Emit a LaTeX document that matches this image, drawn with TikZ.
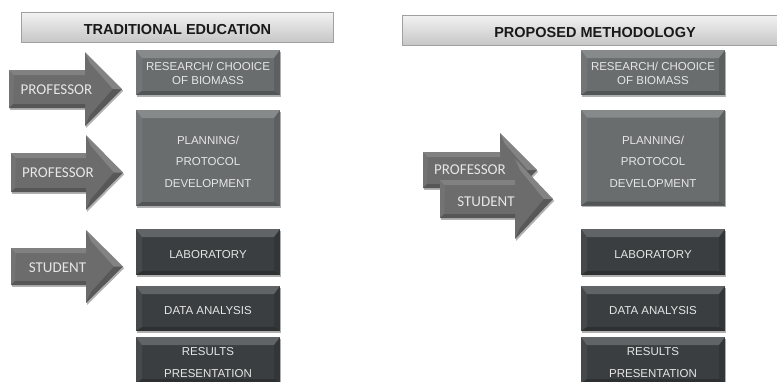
\documentclass[tikz,border=0pt]{standalone}
\usepackage{fontspec}
\setmainfont{Liberation Sans}
\newfontfamily\arrowfont{Carlito}
\usetikzlibrary{shadows}

\definecolor{midbox}{HTML}{6A6D6E}
\definecolor{darkbox}{HTML}{3A3E40}
\definecolor{arrowgray}{HTML}{6C6C6C}
\definecolor{boxtext}{HTML}{E6E6E6}
\definecolor{headline}{HTML}{A0A0A0}

\tikzset{
  softshadow/.style={drop shadow={shadow xshift=1.2pt,shadow yshift=-1.8pt,opacity=.3,fill=black}},
  header/.style={draw=headline,line width=.8pt,top color=white!95!black,bottom color=white!78!black},
  headtext/.style={font=\fontsize{14.5}{17}\selectfont\bfseries,text=black!90,inner sep=0pt},
  bevel/.style={path picture={
    \path (path picture bounding box.north west) coordinate (pnw)
          (path picture bounding box.north east) coordinate (pne)
          (path picture bounding box.south west) coordinate (psw)
          (path picture bounding box.south east) coordinate (pse);
    \fill[white,opacity=.2] (pnw) -- (pne) -- ([shift={(-6pt,-8pt)}]pne) -- ([shift={(6pt,-8pt)}]pnw) -- cycle;
    \fill[white,opacity=.06] (pnw) -- ([shift={(6pt,-8pt)}]pnw) -- ([shift={(6pt,4pt)}]psw) -- (psw) -- cycle;
    \fill[black,opacity=.12] (pne) -- ([shift={(-6pt,-8pt)}]pne) -- ([shift={(-6pt,4pt)}]pse) -- (pse) -- cycle;
    \fill[black,opacity=.22] (psw) -- ([shift={(6pt,4pt)}]psw) -- ([shift={(-6pt,4pt)}]pse) -- (pse) -- cycle;
  }},
  stepbox/.style={rectangle,inner sep=0pt,outer sep=0pt,minimum width=144pt,bevel,softshadow},
  boxlabel/.style={align=center,text=boxtext,inner sep=0pt,font=\fontsize{11.5}{14}\selectfont},
  widelabel/.style={boxlabel,font=\fontsize{11.5}{21.5}\selectfont},
  arrowlabel/.style={text=boxtext,inner sep=0pt,font=\arrowfont\fontsize{15}{18}\selectfont},
}

% block arrow: left x, head-base x, tip x, centre y, shaft half-height, head half-height
\newcommand\blockarrow[6]{%
  \fill[arrowgray,softshadow] (#1,{#4-#5}) -- (#2,{#4-#5}) -- (#2,{#4-#6}) -- (#3,#4)
        -- (#2,{#4+#6}) -- (#2,{#4+#5}) -- (#1,{#4+#5}) -- cycle;
  \fill[white,opacity=.15] (#1,{#4-#5}) -- (#2,{#4-#5}) -- (#2,{#4-#5+5}) -- ({#1+5},{#4-#5+5}) -- cycle;
  \fill[white,opacity=.05] (#1,{#4-#5}) -- ({#1+5},{#4-#5+5}) -- ({#1+4},{#4+#5-4}) -- (#1,{#4+#5}) -- cycle;
  \fill[black,opacity=.2] (#1,{#4+#5}) -- (#2,{#4+#5}) -- (#2,{#4+#5-4}) -- ({#1+4},{#4+#5-4}) -- cycle;
  \fill[white,opacity=.16] (#2,{#4-#6}) -- (#3,#4) -- ({#3-9},#4) -- ({#2+5},{#4-#6+11}) -- cycle;
  \fill[black,opacity=.18] (#2,{#4+#6}) -- (#3,#4) -- ({#3-9},#4) -- ({#2+5},{#4+#6-11}) -- cycle;
}

\begin{document}
\begin{tikzpicture}[x=1pt,y=-1pt]
\clip (0,0) rectangle (777,381);
\fill[white] (0,0) rectangle (777,381);

% ---------- traditional education ----------
\path[header] (21,12) rectangle (333,42);
\node[headtext] (tradtitle) at (177.5,30) {TRADITIONAL EDUCATION};

\node[stepbox,fill=midbox,minimum height=45pt]  (tb1) at (208,72.5) {};
\node[stepbox,fill=midbox,minimum height=96pt]  (tb2) at (208,158) {};
\node[stepbox,fill=darkbox,minimum height=46pt] (tb3) at (208,252) {};
\node[stepbox,fill=darkbox,minimum height=45pt] (tb4) at (208,308.5) {};
\node[stepbox,fill=darkbox,minimum height=46pt] (tb5) at (208,360) {};

\node[boxlabel]  (tl1) at (208,73)    {RESEARCH/ CHOOICE\\OF BIOMASS};
\node[widelabel] (tl2) at (208,161.5) {PLANNING/\\PROTOCOL\\DEVELOPMENT};
\node[boxlabel]  (tl3) at (208,255)   {LABORATORY};
\node[boxlabel]  (tl4) at (208,311)   {DATA ANALYSIS};
\node[widelabel] (tl5) at (208,362.5) {RESULTS\\PRESENTATION};

\blockarrow{9}{85}{122}{89}{19}{37}
\blockarrow{11}{86}{123}{172.5}{19.5}{37.5}
\blockarrow{11}{86}{123}{266.5}{18.5}{36.5}
\node[arrowlabel] (ta1) at (56.5,90)  {PROFESSOR};
\node[arrowlabel] (ta2) at (58,173)   {PROFESSOR};
\node[arrowlabel] (ta3) at (57.5,268) {STUDENT};

% ---------- proposed methodology ----------
\path[header] (402,15) rectangle (790,45);
\node[headtext] (proptitle) at (595,33) {PROPOSED METHODOLOGY};

\node[stepbox,fill=midbox,minimum height=45pt]  (pb1) at (653,72.5) {};
\node[stepbox,fill=midbox,minimum height=96pt]  (pb2) at (653,157.5) {};
\node[stepbox,fill=darkbox,minimum height=46pt] (pb3) at (653,252) {};
\node[stepbox,fill=darkbox,minimum height=45pt] (pb4) at (653,308.5) {};
\node[stepbox,fill=darkbox,minimum height=46pt] (pb5) at (653,360) {};

\node[boxlabel]  (pl1) at (653,73)    {RESEARCH/ CHOOICE\\OF BIOMASS};
\node[widelabel] (pl2) at (653,161.5) {PLANNING/\\PROTOCOL\\DEVELOPMENT};
\node[boxlabel]  (pl3) at (653,255)   {LABORATORY};
\node[boxlabel]  (pl4) at (653,311)   {DATA ANALYSIS};
\node[widelabel] (pl5) at (653,362.5) {RESULTS\\PRESENTATION};

\blockarrow{423}{500}{537}{170}{18}{37}
\node[arrowlabel] (pa1) at (470,170) {PROFESSOR};
\blockarrow{440}{515}{553}{199}{19}{40}
\node[arrowlabel] (pa2) at (486,202) {STUDENT};
\end{tikzpicture}
\end{document}
